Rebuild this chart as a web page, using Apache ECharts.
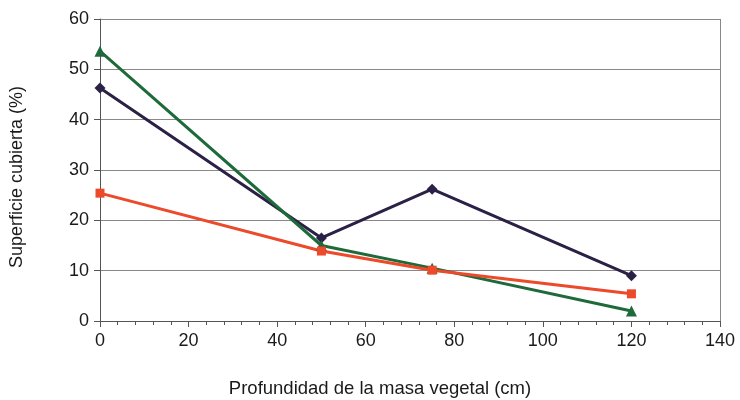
<!DOCTYPE html>
<html><head><meta charset="utf-8">
<script src="https://cdn.jsdelivr.net/npm/echarts@6/dist/echarts.min.js"></script>
<style>html,body{margin:0;padding:0;background:#fff}#c{width:740px;height:400px}</style>
</head><body><div id="c"></div>
<script>
const depth = [0, 50, 75, 120];
const seriesPurple = [46.3, 16.5, 26.2, 9.0];
const seriesGreen = [53.6, 15.0, 10.5, 2.0];
const seriesRed = [25.4, 13.9, 10.1, 5.4];
const xTicks = [0, 20, 40, 60, 80, 100, 120, 140];
const yTicks = [0, 10, 20, 30, 40, 50, 60];

const pairs = v => depth.map((d, i) => [d, v[i]]);
const chart = echarts.init(document.getElementById('c'));
const font = 'Liberation Sans, Arial, sans-serif';
chart.setOption({
  animation: false,
  grid: {left: 100, right: 20, top: 19, bottom: 79, containLabel: false, outerBoundsMode: 'none'},
  xAxis: {
    type: 'value', min: xTicks[0], max: xTicks[xTicks.length-1], interval: 20,
    name: 'Profundidad de la masa vegetal (cm)', nameLocation: 'middle', nameGap: 58,
    nameTextStyle: {fontFamily: font, fontSize: 18.5, color: '#1a1a1a', padding: [0, 60, 0, 0]},
    axisLine: {show: true, lineStyle: {color: '#555', width: 1}},
    axisTick: {show: true, inside: false, length: 6, lineStyle: {color: '#555'}},
    minorTick: {show: true, splitNumber: 5, length: 4, lineStyle: {color: '#555'}},
    axisLabel: {fontFamily: font, fontSize: 18, color: '#1a1a1a', margin: 11},
    splitLine: {show: false}
  },
  yAxis: {
    type: 'value', min: yTicks[0], max: yTicks[yTicks.length-1], interval: 10,
    name: 'Superficie cubierta (%)', nameLocation: 'middle', nameGap: 74,
    nameTextStyle: {fontFamily: font, fontSize: 18, color: '#1a1a1a', padding: [0, 14, 0, 0]},
    axisLine: {show: true, lineStyle: {color: '#555', width: 1}},
    axisTick: {show: true, length: 6, lineStyle: {color: '#555'}},
    axisLabel: {fontFamily: font, fontSize: 18, color: '#1a1a1a', margin: 11},
    splitLine: {show: true, lineStyle: {color: '#888', width: 1}}
  },
  series: [
    {type: 'line', data: pairs(seriesPurple), symbol: 'diamond', symbolSize: 11,
     lineStyle: {color: '#2b2045', width: 3}, itemStyle: {color: '#2b2045'}},
    {type: 'line', data: pairs(seriesGreen), symbol: 'triangle', symbolSize: 11,
     lineStyle: {color: '#1e6a3a', width: 3}, itemStyle: {color: '#1e6a3a'}},
    {type: 'line', data: pairs(seriesRed), symbol: 'rect', symbolSize: 9,
     lineStyle: {color: '#ec4a2a', width: 3}, itemStyle: {color: '#ec4a2a'}},
    {type: 'line', data: [], markLine: {silent: true, symbol: 'none', label: {show: false},
      lineStyle: {color: '#888', type: 'solid', width: 1}, data: [{xAxis: 140}]}}
  ]
});
</script></body></html>
